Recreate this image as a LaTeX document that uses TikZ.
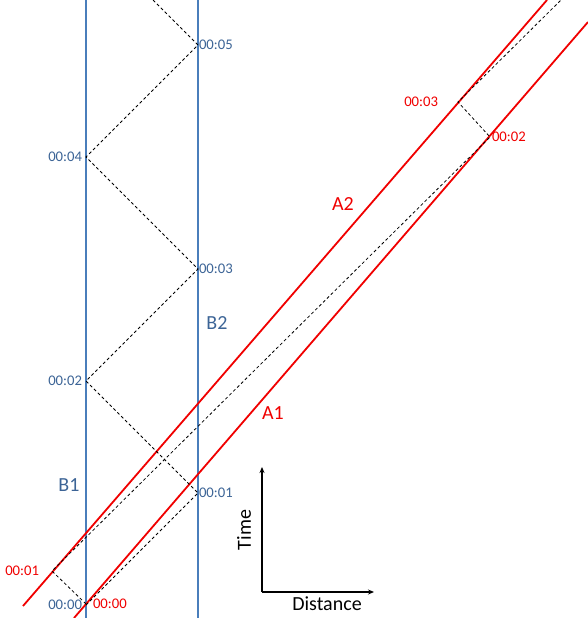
\documentclass[tikz,border=0pt]{standalone}
\usepackage{fontspec}
\setmainfont{Carlito}
\usepackage{tikz}
\usetikzlibrary{calc, positioning}
\usetikzlibrary{arrows.meta}

\definecolor{bline}{RGB}{74,126,187}
\definecolor{btext}{RGB}{60,100,150}
\definecolor{ared}{RGB}{240,0,0}

\begin{document}
\begin{tikzpicture}[
  x=1pt, y=-1pt,
  every node/.style={inner sep=0pt, outer sep=0pt},
  worldB/.style={draw=bline, line width=1.8pt},
  worldA/.style={draw=ared, line width=1.8pt},
  light/.style={draw=black, line width=0.8pt, dash pattern=on 3pt off 2.5pt},
  btime/.style={text=btext, font=\fontsize{14.7}{16}\selectfont},
  atime/.style={text=ared, font=\fontsize{14.7}{16}\selectfont},
  bigB/.style={text=btext, font=\fontsize{20}{22}\selectfont},
  bigA/.style={text=ared, font=\fontsize{20}{22}\selectfont},
  axis/.style={draw, line width=1.2pt, -{Stealth[length=6pt, width=5pt]}},
  axis label/.style={font=\fontsize{20}{22}\selectfont}
]
\useasboundingbox (0,0) rectangle (588,618);

% world lines of B
\coordinate (B1s) at (86,0);
\coordinate (B1e) at (86,618);
\coordinate (B2s) at (198,0);
\coordinate (B2e) at (198,618);
\draw[worldB] (B1s) -- (B1e);
\draw[worldB] (B2s) -- (B2e);

% world lines of A
\coordinate (A1s) at (74,618);
\coordinate (A1e) at (588,22);
\coordinate (A2s) at (23,606);
\coordinate (A2e) at (547,0);
\draw[worldA] (A1s) -- (A1e);
\draw[worldA] (A2s) -- (A2e);

% light between B1 and B2
\coordinate[label={[btime, label distance=4pt]left:00:00}] (b0) at (86,605);
\coordinate[label={[btime, label distance=1pt]right:00:01}] (b1) at (198,493);
\coordinate[label={[btime, label distance=4pt]left:00:02}] (b2) at (86,381);
\coordinate[label={[btime, label distance=1pt]right:00:03}] (b3) at (198,269);
\coordinate[label={[btime, label distance=4pt]left:00:04}] (b4) at (86,157);
\coordinate[label={[btime, label distance=1pt]right:00:05}] (b5) at (198,45);
\coordinate (btop) at (153,0);
\draw[light] (b0) -- (b1) -- (b2) -- (b3) -- (b4) -- (b5) -- (btop);

% light between A1 and A2
\coordinate[label={[atime, label distance=7pt]right:00:00}] (a0) at (86,604);
\coordinate[label={[atime, label distance=13pt]left:00:01}] (a1) at (52,571);
\coordinate[label={[atime, label distance=2pt]right:00:02}] (a2) at (490,137);
\coordinate[label={[atime, label distance=20pt]left:00:03}] (a3) at (458,102);
\coordinate (atop) at (561,0);
\draw[light] (a0) -- (a1) -- (a2) -- (a3) -- (atop);

\node[bigB] (nB1) at (69,485) {B1};
\node[bigB] (nB2) at (217,323) {B2};
\node[bigA] (nA1) at (273,413) {A1};
\node[bigA] (nA2) at (343,204) {A2};

% axes
\coordinate (o) at (262,592);
\coordinate (tEnd) at (262,467);
\coordinate (dEnd) at (374,592);
\draw[axis] (o) -- (tEnd);
\draw[axis] (o) -- (dEnd);
\node[axis label, rotate=90] (time) at (244,530) {Time};
\node[axis label] (dist) at (327,604) {Distance};

\end{tikzpicture}
\end{document}
